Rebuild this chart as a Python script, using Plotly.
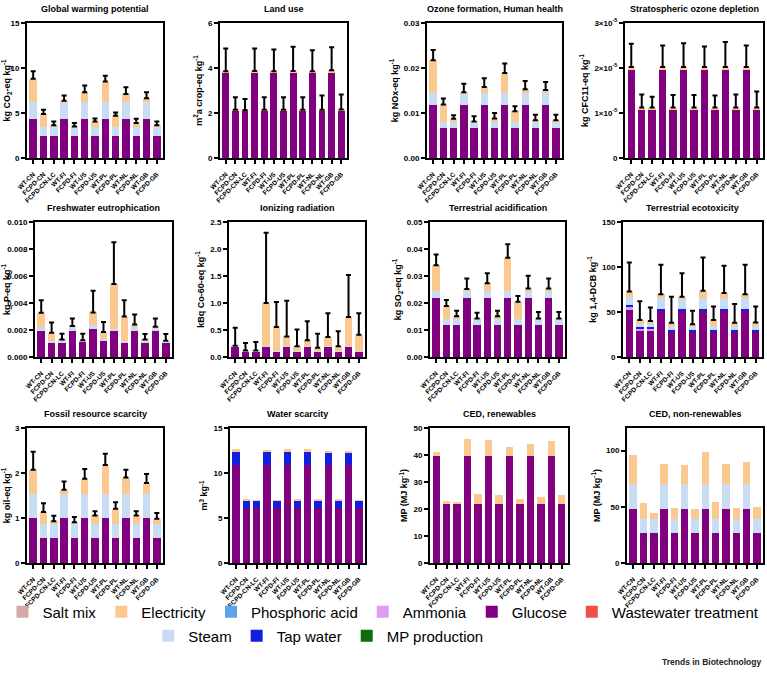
import plotly.graph_objects as go
from plotly.subplots import make_subplots

cats = ["WT-CN", "FCPD-CN", "FCPD-CN-LC", "WT-FI", "FCPD-FI", "WT-US", "FCPD-US",
        "WT-PL", "FCPD-PL", "WT-NL", "FCPD-NL", "WT-GB", "FCPD-GB"]

# Global warming potential
gwp_glucose = [4.3, 2.4, 2.4, 4.3, 2.4, 4.3, 2.4, 4.3, 2.4, 4.3, 2.4, 4.3, 2.4]
gwp_steam = [1.9, 1.05, 1.05, 1.9, 1.05, 1.9, 1.05, 1.9, 1.05, 1.9, 1.05, 1.9, 1.05]
gwp_elec = [2.6, 1.45, 0.2, 0.15, 0.05, 1.1, 0.6, 2.3, 1.25, 0.9, 0.45, 0.45, 0.2]
gwp_top = [9.65, 5.35, 4.05, 6.95, 3.9, 8.05, 4.4, 9.15, 5.05, 7.85, 4.35, 7.3, 4.05]

# Land use
land_glucose = [3.82, 2.12, 2.12, 3.82, 2.12, 3.82, 2.12, 3.82, 2.12, 3.82, 2.12, 3.82, 2.12]
land_elec = [0.04, 0.02, 0.01, 0.05, 0.03, 0.04, 0.02, 0.05, 0.02, 0.04, 0.02, 0.08, 0.04]
land_top = [4.87, 2.7, 2.62, 4.87, 2.7, 4.82, 2.7, 4.94, 2.7, 4.79, 2.78, 4.92, 2.82]

# Ozone formation, human health
ozo_glucose = [0.0117, 0.0066, 0.0066, 0.0117, 0.0066, 0.0117, 0.0066, 0.0117, 0.0066, 0.0117, 0.0066, 0.0117, 0.0066]
ozo_steam = [0.0027, 0.0014, 0.0014, 0.0027, 0.0014, 0.0027, 0.0014, 0.0027, 0.0014, 0.0027, 0.0014, 0.0027, 0.0014]
ozo_elec = [0.0073, 0.0039, 0.0007, 0.0002, 0.0001, 0.0014, 0.0008, 0.0045, 0.0024, 0.0009, 0.0004, 0.0007, 0.0004]
ozo_top = [0.024, 0.0132, 0.0095, 0.0165, 0.0093, 0.0177, 0.01, 0.021, 0.0115, 0.0171, 0.0096, 0.0169, 0.0096]

# Stratospheric ozone depletion
sod_glucose = [1.95e-5, 1.08e-5, 1.08e-5, 1.95e-5, 1.08e-5, 1.95e-5, 1.08e-5, 1.95e-5, 1.08e-5, 1.95e-5, 1.08e-5, 1.95e-5, 1.08e-5]
sod_elec = [0.07e-5, 0.04e-5, 0.04e-5, 0.07e-5, 0.04e-5, 0.07e-5, 0.04e-5, 0.07e-5, 0.04e-5, 0.07e-5, 0.04e-5, 0.07e-5, 0.04e-5]
sod_top = [2.54e-5, 1.41e-5, 1.36e-5, 2.5e-5, 1.4e-5, 2.55e-5, 1.4e-5, 2.48e-5, 1.39e-5, 2.58e-5, 1.41e-5, 2.5e-5, 1.48e-5]

# Freshwater eutrophication
few_glucose = [0.0019, 0.00105, 0.00105, 0.00195, 0.0011, 0.00205, 0.00115, 0.0019, 0.00105, 0.0019, 0.00105, 0.0019, 0.00105]
few_steam = [0.0003, 0.00015, 0.00015, 0.0003, 0.00015, 0.0003, 0.00015, 0.0002, 0.0001, 0.0003, 0.00015, 0.0003, 0.00015]
few_elec = [0.00108, 0.0006, 0.0001, 0.00005, 0.0, 0.00095, 0.00056, 0.0033, 0.00185, 0.0002, 0.0001, 0.00005, 0.0]
few_top = [0.0042, 0.00255, 0.00172, 0.00285, 0.00172, 0.0049, 0.0026, 0.0085, 0.0042, 0.00315, 0.0017, 0.00285, 0.0017]

# Ionizing radiation
ion_glucose = [0.19, 0.105, 0.105, 0.19, 0.105, 0.19, 0.105, 0.19, 0.105, 0.19, 0.105, 0.19, 0.105]
ion_steam = [0.02, 0.015, 0.015, 0.02, 0.015, 0.02, 0.015, 0.02, 0.015, 0.02, 0.015, 0.02, 0.015]
ion_elec = [0.0, 0.0, 0.0, 0.79, 0.435, 0.17, 0.08, 0.1, 0.05, 0.16, 0.08, 0.53, 0.29]
ion_top = [0.54, 0.26, 0.28, 2.3, 1.02, 1.04, 0.51, 0.66, 0.43, 0.81, 0.475, 1.52, 0.81]

# Terrestrial acidification
ta_glucose = [0.0217, 0.012, 0.012, 0.0217, 0.012, 0.0217, 0.012, 0.0217, 0.012, 0.0217, 0.012, 0.0217, 0.012]
ta_steam = [0.0028, 0.0021, 0.0021, 0.0028, 0.0021, 0.0028, 0.0021, 0.0028, 0.0021, 0.0028, 0.0021, 0.0028, 0.0021]
ta_elec = [0.0095, 0.0048, 0.001, 0.0007, 0.0002, 0.0028, 0.001, 0.0123, 0.0064, 0.0009, 0.0002, 0.0009, 0.0002]
ta_top = [0.038, 0.0211, 0.0171, 0.0291, 0.0164, 0.031, 0.0171, 0.0418, 0.0226, 0.0301, 0.0167, 0.0291, 0.0167]

# Terrestrial ecotoxicity
te_glucose = [52, 28.5, 28.5, 52, 28.5, 52, 28.5, 52, 28.5, 52, 28.5, 52, 28.5]
te_ammonia = [4.5, 3.5, 3.5, 0, 0, 0, 0, 0, 0, 0, 0, 0, 0]
te_tap = [1, 1, 1, 1, 1, 1, 1, 1, 1, 1, 1, 1, 1]
te_steam = [9.5, 3.5, 3.5, 12.5, 5.5, 12.5, 5.5, 12.5, 5.5, 12.5, 5.5, 12.5, 5.5]
te_elec = [5.8, 4.5, 3.5, 4.3, 3.0, 1.5, 1.5, 8.0, 6.0, 5.5, 3.0, 4.3, 3.4]
te_top = [105, 62, 55, 102.5, 67, 93, 51.5, 110.5, 56, 101.5, 59, 102.5, 56]

# Fossil resource scarcity
frs_glucose = [1.0, 0.556, 0.556, 1.0, 0.556, 1.0, 0.556, 1.0, 0.556, 1.0, 0.556, 1.0, 0.556]
frs_steam = [0.54, 0.3, 0.3, 0.54, 0.3, 0.54, 0.3, 0.54, 0.3, 0.54, 0.3, 0.54, 0.3]
frs_elec = [0.53, 0.28, 0.07, 0.09, 0.05, 0.33, 0.2, 0.64, 0.35, 0.36, 0.2, 0.24, 0.13]
frs_top = [2.47, 1.33, 1.05, 1.81, 1.02, 2.09, 1.15, 2.43, 1.35, 2.07, 1.15, 1.98, 1.11]

# Water scarcity
ws_glucose = [10.93, 6.1, 6.1, 10.93, 6.1, 10.93, 6.1, 10.93, 6.1, 10.93, 6.1, 10.93, 6.1]
ws_tap = [1.37, 0.86, 0.86, 1.37, 0.86, 1.37, 0.86, 1.37, 0.86, 1.37, 0.86, 1.37, 0.86]
ws_elec = [0.37, 0.15, 0.02, 0.25, 0.03, 0.35, 0.15, 0.4, 0.15, 0.2, 0.05, 0.05, 0.03]

# CED, renewables
cedr_glucose = [39.5, 21.9, 21.9, 39.5, 21.9, 39.5, 21.9, 39.5, 21.9, 39.5, 21.9, 39.5, 21.9]
cedr_elec = [1.7, 1.0, 0.8, 6.6, 3.8, 6.0, 3.4, 3.5, 1.9, 4.6, 2.6, 5.7, 3.2]

# CED, non-renewables
cedn_glucose = [47.6, 26.5, 26.5, 47.6, 26.5, 47.6, 26.5, 47.6, 26.5, 47.6, 26.5, 47.6, 26.5]
cedn_steam = [22.4, 12.3, 12.3, 22.4, 12.3, 22.4, 12.3, 22.4, 12.3, 22.4, 12.3, 22.4, 12.3]
cedn_elec = [26.2, 14.7, 5.3, 18.2, 9.7, 17.4, 9.2, 28.5, 15.6, 17.6, 10.3, 19.7, 10.6]

zeros = [0] * len(cats)

colors = {
    "Salt mix": "#D6A9A8",
    "Electricity": "#FBC98F",
    "Phosphoric acid": "#5AA4EC",
    "Ammonia": "#E09CF0",
    "Glucose": "#800080",
    "Wastewater treatment": "#F24E4E",
    "Steam": "#C8DCF4",
    "Tap water": "#1020E0",
    "MP production": "#0E6B0E",
}
legend_order = list(colors.keys())
second_row = ["Steam", "Tap water", "MP production"]

panels = [
    dict(title="Global warming potential", ytitle="kg CO<sub>2</sub>-eq kg<sup>-1</sup>",
         stack=[("Glucose", gwp_glucose), ("Steam", gwp_steam), ("Electricity", gwp_elec),
                ("Salt mix", zeros), ("Phosphoric acid", zeros), ("Ammonia", zeros),
                ("Wastewater treatment", zeros), ("Tap water", zeros), ("MP production", zeros)],
         top=gwp_top, yrange=[0, 15], dtick=5, fmt=""),
    dict(title="Land use", ytitle="m<sup>2</sup>a crop-eq kg<sup>-1</sup>",
         stack=[("Glucose", land_glucose), ("Electricity", land_elec)],
         top=land_top, yrange=[0, 6], dtick=2, fmt=""),
    dict(title="Ozone formation, Human health", ytitle="kg NOx-eq kg<sup>-1</sup>",
         stack=[("Glucose", ozo_glucose), ("Steam", ozo_steam), ("Electricity", ozo_elec)],
         top=ozo_top, yrange=[0, 0.03], dtick=0.01, fmt=".2f"),
    dict(title="Stratospheric ozone depletion", ytitle="kg CFC11-eq kg<sup>-1</sup>",
         stack=[("Glucose", sod_glucose), ("Electricity", sod_elec)],
         top=sod_top, yrange=[0, 3e-5], dtick=1e-5, fmt="sci"),
    dict(title="Freshwater eutrophication", ytitle="kg P-eq kg<sup>-1</sup>",
         stack=[("Glucose", few_glucose), ("Steam", few_steam), ("Electricity", few_elec)],
         top=few_top, yrange=[0, 0.010], dtick=0.002, fmt=".3f"),
    dict(title="Ionizing radiation", ytitle="kBq Co-60-eq kg<sup>-1</sup>",
         stack=[("Glucose", ion_glucose), ("Steam", ion_steam), ("Electricity", ion_elec)],
         top=ion_top, yrange=[0, 2.5], dtick=0.5, fmt=".1f"),
    dict(title="Terrestrial acidification", ytitle="kg SO<sub>2</sub>-eq kg<sup>-1</sup>",
         stack=[("Glucose", ta_glucose), ("Steam", ta_steam), ("Electricity", ta_elec)],
         top=ta_top, yrange=[0, 0.05], dtick=0.01, fmt=".2f"),
    dict(title="Terrestrial ecotoxicity", ytitle="kg 1,4-DCB kg<sup>-1</sup>",
         stack=[("Glucose", te_glucose), ("Ammonia", te_ammonia), ("Tap water", te_tap),
                ("Steam", te_steam), ("Electricity", te_elec)],
         top=te_top, yrange=[0, 150], dtick=50, fmt=""),
    dict(title="Fossil resource scarcity", ytitle="kg oil-eq kg<sup>-1</sup>",
         stack=[("Glucose", frs_glucose), ("Steam", frs_steam), ("Electricity", frs_elec)],
         top=frs_top, yrange=[0, 3], dtick=1, fmt=""),
    dict(title="Water scarcity", ytitle="m<sup>3</sup> kg<sup>-1</sup>",
         stack=[("Glucose", ws_glucose), ("Tap water", ws_tap), ("Electricity", ws_elec)],
         top=None, yrange=[0, 15], dtick=5, fmt=""),
    dict(title="CED, renewables", ytitle="MP (MJ kg<sup>-1</sup>)",
         stack=[("Glucose", cedr_glucose), ("Electricity", cedr_elec)],
         top=None, yrange=[0, 50], dtick=10, fmt=""),
    dict(title="CED, non-renewables", ytitle="MP (MJ kg<sup>-1</sup>)",
         stack=[("Glucose", cedn_glucose), ("Steam", cedn_steam), ("Electricity", cedn_elec)],
         top=None, yrange=[0, 120], dtick=50, fmt=""),
]

# pixel boxes of the plot areas (x0, x1, y0, y1)
W, H = 767, 673
boxes = [
    (27, 163, 23, 158), (220, 347, 23, 158), (427, 562, 23, 158), (625, 763, 23, 158),
    (35, 172, 222, 357), (229, 365, 222, 357), (430, 565, 222, 357), (623, 762, 222, 357),
    (27, 163, 428, 563), (230, 365, 428, 563), (430, 568, 428, 563), (627, 763, 428, 563),
]

fig = make_subplots(rows=3, cols=4)
shown = set()

for i, p in enumerate(panels):
    r, c = i // 4 + 1, i % 4 + 1
    total = [0.0] * len(cats)
    for name, vals in p["stack"]:
        fig.add_trace(go.Bar(
            x=cats, y=vals, name=name, marker_color=colors[name], marker_line_width=0,
            legendgroup=name, showlegend=name not in shown,
            legend="legend2" if name in second_row else "legend",
            legendrank=legend_order.index(name) + 1,
        ), row=r, col=c)
        shown.add(name)
        total = [t + v for t, v in zip(total, vals)]
    if p["top"] is not None:
        err = [max(t - s, 0) for t, s in zip(p["top"], total)]
        fig.add_trace(go.Scatter(
            x=cats, y=total, mode="markers", showlegend=False, hoverinfo="skip",
            marker=dict(size=1, color="rgba(0,0,0,0)"),
            error_y=dict(type="data", symmetric=False, array=err, arrayminus=zeros,
                         color="black", thickness=2, width=2.5),
        ), row=r, col=c)

    x0, x1, y0, y1 = boxes[i]
    sfx = "" if i == 0 else str(i + 1)
    fig.layout["xaxis" + sfx].update(
        domain=[x0 / W, x1 / W], range=[-0.6, len(cats) - 0.4], automargin=False,
        showline=True, linecolor="black", linewidth=2, mirror=True,
        ticks="outside", ticklen=4, tickwidth=1.5, tickcolor="black",
        tickangle=-45, tickfont=dict(size=6.5, color="black"), ticklabelstandoff=4,
        tickvals=cats, ticktext=["<b>%s</b>" % s for s in cats],
    )
    yax = dict(
        domain=[1 - y1 / H, 1 - y0 / H], range=p["yrange"], automargin=False,
        showline=True, linecolor="black", linewidth=2, mirror=True,
        ticks="outside", ticklen=4, tickwidth=1.5, tickcolor="black",
        showgrid=False, zeroline=False,
        tickfont=dict(size=8, color="black"),
        title=dict(text="<b>%s</b>" % p["ytitle"], font=dict(size=9, color="black"), standoff=4),
    )
    lo, hi = p["yrange"]
    n = int(round((hi - lo) / p["dtick"])) + 1
    vals = [lo + k * p["dtick"] for k in range(n) if lo + k * p["dtick"] <= hi + 1e-12]
    if p["fmt"] == "sci":
        labels = ["0"] + ["%d×10<sup>-5</sup>" % round(v / 1e-5) for v in vals[1:]]
    elif p["fmt"]:
        labels = [format(v, p["fmt"]) for v in vals]
    else:
        labels = ["%g" % v for v in vals]
    yax.update(tickvals=vals, ticktext=["<b>%s</b>" % s for s in labels])
    fig.layout["yaxis" + sfx].update(**yax)

    fig.add_annotation(
        x=(x0 + x1) / 2 / W, y=1 - (y0 - 14) / H, xref="paper", yref="paper",
        xanchor="center", yanchor="middle",
        text="<b>%s</b>" % p["title"], showarrow=False,
        font=dict(size=9, color="black"),
    )

fig.add_annotation(
    x=763 / W, y=1 - 662 / H, xref="paper", yref="paper", xanchor="right", yanchor="middle",
    text="<b>Trends in Biotechnology</b>", showarrow=False, font=dict(size=8.5, color="#222"),
)

fig.update_layout(
    width=W, height=H, margin=dict(l=0, r=0, t=0, b=0, autoexpand=False),
    barmode="stack", bargap=0.28,
    plot_bgcolor="white", paper_bgcolor="white",
    font=dict(family="Liberation Sans, Arial, sans-serif", color="black"),
    legend=dict(orientation="h", x=0.5, xanchor="center", y=1 - 612 / H, yanchor="middle",
                font=dict(size=15), traceorder="normal", bgcolor="rgba(0,0,0,0)"),
    legend2=dict(orientation="h", x=0.415, xanchor="center", y=1 - 636 / H, yanchor="middle",
                 font=dict(size=15), traceorder="normal", bgcolor="rgba(0,0,0,0)"),
)

# the page's default body margin would push the fixed-size figure off the window
fig.write_html("out.html", config={"displayModeBar": False},
               post_script="document.body.style.margin = '0px';")
